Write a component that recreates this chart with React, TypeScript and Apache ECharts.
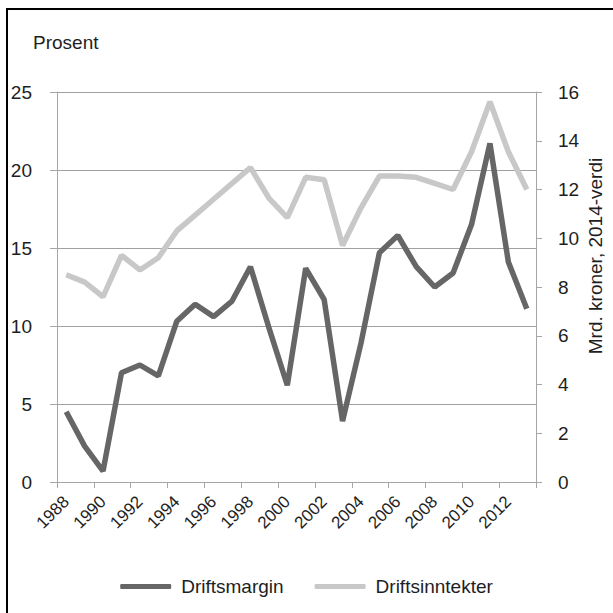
import React, { useEffect, useRef } from "react";
import * as echarts from "echarts";

const years = [
  "1988", "1989", "1990", "1991", "1992", "1993", "1994", "1995", "1996", "1997",
  "1998", "1999", "2000", "2001", "2002", "2003", "2004", "2005", "2006", "2007",
  "2008", "2009", "2010", "2011", "2012", "2013",
];

// Driftsmargin, prosent (venstre akse)
const driftsmargin = [
  4.5, 2.3, 0.7, 7.0, 7.5, 6.8, 10.3, 11.4, 10.6, 11.6,
  13.8, 9.9, 6.2, 13.7, 11.7, 3.9, 8.9, 14.7, 15.8, 13.8,
  12.5, 13.4, 16.5, 21.7, 14.1, 11.1,
];

// Driftsinntekter, mrd. kroner 2014-verdi (høyre akse)
const driftsinntekter = [
  8.5, 8.2, 7.6, 9.3, 8.7, 9.2, 10.3, 10.95, 11.6, 12.25,
  12.9, 11.65, 10.85, 12.5, 12.4, 9.7, 11.25, 12.55, 12.55, 12.5,
  12.25, 12.0, 13.55, 15.6, 13.55, 12.0,
];

const leftTicks = { min: 0, max: 25, interval: 5 };
const rightTicks = { min: 0, max: 16, interval: 2 };

const FONT = "Liberation Sans, Arial, sans-serif";

export default function App() {
  const ref = useRef<HTMLDivElement>(null);

  useEffect(() => {
    if (!ref.current) return;
    const chart = echarts.init(ref.current, undefined, { renderer: "svg" });
    const axisGray = "#a6a6a6";
    const textColor = "#1e1e1e";
    chart.setOption({
      animation: false,
      backgroundColor: "#ffffff",
      textStyle: { fontFamily: FONT },
      grid: { left: 57, right: 77, top: 92, bottom: 131, containLabel: false },
      graphic: [
        {
          type: "rect",
          shape: { x: 7, y: 9, width: 800, height: 800 },
          style: { fill: "none", stroke: "#000000", lineWidth: 2 },
          silent: true,
        },
        {
          type: "text",
          x: 33,
          y: 33,
          style: {
            text: "Prosent",
            fontSize: 19,
            fontFamily: FONT,
            fill: textColor,
            textAlign: "left",
            textVerticalAlign: "top",
          },
        },
        {
          type: "text",
          x: 595,
          y: 256,
          rotation: Math.PI / 2,
          style: {
            text: "Mrd. kroner, 2014-verdi",
            fontSize: 19,
            fontFamily: FONT,
            fill: textColor,
            textAlign: "center",
            textVerticalAlign: "middle",
          },
        },
      ],
      legend: {
        top: 572,
        left: "center",
        icon: "roundRect",
        itemWidth: 51,
        itemHeight: 5,
        itemGap: 31,
        textStyle: { fontSize: 19, color: textColor, fontFamily: FONT, padding: [0, 0, 0, 5] },
        data: ["Driftsmargin", "Driftsinntekter"],
      },
      xAxis: {
        type: "category",
        data: years,
        boundaryGap: true,
        axisLine: { show: true, lineStyle: { color: axisGray, width: 1 } },
        axisTick: { show: true, length: 6, lineStyle: { color: axisGray } },
        axisLabel: {
          interval: 1,
          rotate: 45,
          fontSize: 17,
          color: textColor,
          margin: 17,
          fontFamily: FONT,
        },
        splitLine: { show: false },
      },
      yAxis: [
        {
          type: "value",
          position: "left",
          min: leftTicks.min,
          max: leftTicks.max,
          interval: leftTicks.interval,
          axisLine: { show: true, lineStyle: { color: axisGray } },
          axisTick: { show: true, length: 7, lineStyle: { color: axisGray } },
          axisLabel: { fontSize: 19, color: textColor, margin: 25, fontFamily: FONT },
          splitLine: { show: true, lineStyle: { color: "#a0a0a0", width: 1 } },
        },
        {
          type: "value",
          position: "right",
          min: rightTicks.min,
          max: rightTicks.max,
          interval: rightTicks.interval,
          axisLine: { show: true, lineStyle: { color: axisGray } },
          axisTick: { show: true, length: 6, lineStyle: { color: axisGray } },
          axisLabel: { fontSize: 19, color: textColor, margin: 22, fontFamily: FONT },
          splitLine: { show: false },
        },
      ],
      series: [
        {
          name: "Driftsinntekter",
          type: "line",
          yAxisIndex: 1,
          data: driftsinntekter,
          symbol: "none",
          lineStyle: { color: "#c8c8c8", width: 5.5 },
          itemStyle: { color: "#c8c8c8" },
          z: 2,
        },
        {
          name: "Driftsmargin",
          type: "line",
          yAxisIndex: 0,
          data: driftsmargin,
          symbol: "none",
          lineStyle: { color: "#666666", width: 5.5 },
          itemStyle: { color: "#666666" },
          z: 3,
        },
      ],
    });
    return () => chart.dispose();
  }, []);

  return (
    <div
      ref={ref}
      style={{ position: "fixed", left: 0, top: 0, width: 613, height: 613 }}
    />
  );
}
